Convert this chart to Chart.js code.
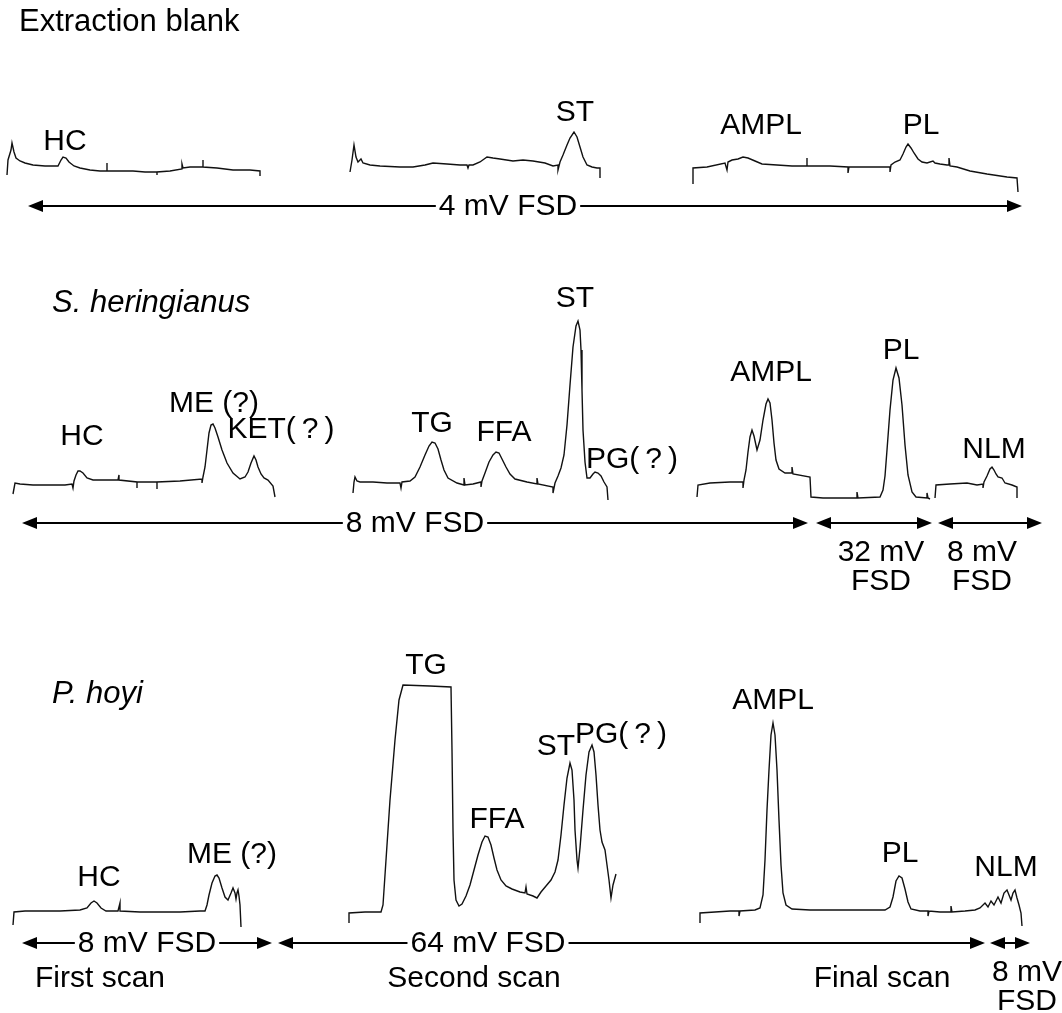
<!DOCTYPE html>
<html>
<head>
<meta charset="utf-8">
<title>TLC-FID scans</title>
<script src="https://cdn.jsdelivr.net/npm/chart.js@4.4.1/dist/chart.umd.min.js"></script>
<style>
  html, body { margin: 0; padding: 0; background: #fff; }
  #wrap { width: 1062px; height: 1013px; }
</style>
</head>
<body>
<div id="wrap"><canvas id="scans" width="1062" height="1013"></canvas></div>
<script>
// Trace values: [position along plate, recorder deflection]
// (deflection grows downward on this sheet, so the y scale is reversed)

// Extraction blank
const blankScan1 = [[7,175],[8,160],[11,150],[12,143],[14,152],[16,158],[20,161],[25,163],[33,165],[45,166],[58,166],[61,160],[63,157],[66,158],[69,162],[74,166],[80,168],[90,170],[100,171],[107,171],[107,163],[107,171],[120,171],[133,171],[145,172],[157,172],[157,175],[157,172],[170,171],[182,169],[182,164],[183,168],[190,167],[203,167],[203,160],[203,167],[217,168],[233,170],[250,170],[260,171],[260,176]];
const blankScan2 = [[350,172],[352,160],[354,145],[356,157],[358,162],[361,159],[363,163],[370,165],[380,166],[400,167],[413,167],[425,165],[433,163],[447,164],[460,165],[467,165],[468,168],[469,165],[473,165],[480,162],[487,157],[493,158],[500,159],[513,161],[523,160],[533,161],[545,163],[553,166],[558,165],[558,170],[560,162],[563,155],[567,145],[570,138],[574,132],[577,137],[580,147],[583,157],[587,165],[592,167],[597,168],[600,168],[600,178]];
const blankScan3 = [[693,184],[693,168],[707,167],[725,163],[727,170],[728,162],[732,160],[738,159],[743,157],[748,158],[755,161],[762,164],[777,165],[792,166],[807,166],[807,158],[807,166],[830,166],[848,167],[848,173],[849,167],[870,167],[890,167],[890,172],[891,165],[895,162],[900,160],[903,154],[906,147],[908,144],[911,148],[914,153],[918,159],[922,162],[927,163],[933,161],[935,163],[940,164],[947,165],[949,165],[949,158],[950,166],[957,167],[970,171],[987,174],[1007,177],[1017,178],[1018,192]];

// S. heringianus
const heringScan1 = [[13,494],[15,483],[20,484],[33,485],[50,485],[65,485],[72,484],[73,488],[74,481],[76,475],[78,471],[80,471],[83,473],[87,478],[93,480],[100,480],[118,480],[119,475],[119,480],[137,482],[137,488],[137,482],[157,482],[157,489],[157,482],[180,481],[202,479],[202,483],[203,477],[205,467],[207,450],[209,433],[211,425],[213,424],[215,428],[218,437],[222,450],[227,463],[233,473],[240,479],[245,477],[248,472],[251,463],[254,456],[256,460],[258,467],[261,474],[264,478],[268,480],[273,486],[275,497]];
const heringScan2 = [[353,493],[354,482],[355,477],[357,481],[360,482],[373,482],[387,483],[400,483],[401,488],[402,482],[410,481],[415,477],[420,467],[425,455],[429,446],[432,442],[435,443],[438,449],[441,460],[444,470],[448,478],[457,483],[464,485],[464,478],[465,485],[473,484],[481,482],[481,487],[482,481],[485,473],[489,462],[493,455],[496,452],[499,453],[502,459],[506,467],[510,474],[515,479],[527,482],[537,484],[537,478],[538,484],[553,487],[553,493],[555,483],[558,476],[561,468],[564,455],[567,425],[570,385],[573,347],[576,326],[578,321],[580,330],[581,350],[582,390],[583,430],[585,462],[587,478],[590,478],[593,474],[595,472],[598,473],[601,476],[604,482],[607,487],[608,500]];
const heringScan3 = [[697,497],[698,485],[710,483],[730,482],[743,482],[743,488],[744,480],[746,470],[748,452],[750,437],[752,430],[754,436],[757,450],[760,440],[763,420],[766,404],[768,399],[770,403],[772,420],[774,443],[776,460],[779,469],[785,473],[792,473],[792,467],[793,474],[810,477],[811,497],[823,498],[857,498],[857,492],[858,498],[880,497],[883,490],[885,476],[887,450],[890,410],[893,380],[896,368],[899,378],[902,405],[905,445],[908,475],[912,492],[916,497],[927,498],[927,493],[928,498],[930,499]];
const heringScan4 = [[935,498],[936,485],[950,484],[967,483],[977,485],[983,484],[983,488],[984,482],[987,476],[990,469],[992,467],[994,470],[996,474],[998,477],[1002,478],[1005,483],[1012,485],[1017,487],[1017,498]];

// P. hoyi
const hoyiScan1 = [[13,925],[14,912],[25,911],[40,911],[60,911],[80,910],[87,908],[91,903],[94,901],[97,903],[101,908],[106,911],[118,911],[120,903],[120,911],[140,912],[160,912],[180,912],[200,911],[205,911],[207,905],[209,895],[212,883],[215,876],[217,875],[219,878],[222,888],[225,897],[228,900],[231,893],[233,888],[235,893],[236,899],[237,893],[238,890],[239,896],[240,905],[241,927]];
const hoyiScan2 = [[349,923],[349,913],[365,912],[381,912],[383,905],[386,860],[390,800],[395,740],[399,700],[403,685],[430,686],[451,687],[452,750],[453,830],[454,880],[456,900],[459,906],[462,904],[466,896],[470,885],[474,870],[478,855],[482,842],[485,836],[488,837],[491,845],[494,858],[497,870],[501,880],[506,886],[512,889],[520,892],[525,893],[526,887],[527,894],[533,896],[537,898],[541,892],[546,886],[551,880],[555,872],[558,860],[561,835],[564,805],[567,778],[570,763],[572,770],[574,800],[575,830],[577,860],[578,868],[580,848],[583,810],[586,775],[589,752],[592,745],[594,752],[596,775],[598,805],[600,830],[602,842],[605,850],[607,865],[609,880],[611,898],[613,885],[616,874]];
const hoyiScan3 = [[700,923],[700,913],[715,912],[730,911],[739,911],[739,916],[740,911],[755,910],[760,908],[763,895],[765,860],[767,810],[769,770],[771,735],[773,723],[775,735],[777,770],[779,820],[781,865],[783,893],[786,905],[792,909],[810,910],[830,910],[850,910],[870,910],[885,910],[890,907],[893,897],[896,881],[899,876],[902,878],[905,889],[908,902],[911,909],[920,911],[928,911],[928,916],[929,911],[940,912],[951,912],[951,906],[952,912],[965,911],[975,910],[980,908],[985,903],[988,907],[991,901],[994,905],[998,897],[1001,903],[1004,893],[1007,890],[1009,895],[1011,900],[1013,893],[1015,890],[1017,898],[1019,905],[1021,913],[1022,926]];

const traces = [blankScan1, blankScan2, blankScan3,
                heringScan1, heringScan2, heringScan3, heringScan4,
                hoyiScan1, hoyiScan2, hoyiScan3];

// Peak names and where they sit
const peakNames = ['HC', 'ST', 'AMPL', 'PL',
                   'HC', 'ME (?)', 'KET(\u2009?\u2009)', 'TG', 'FFA', 'ST', 'PG(\u2009?\u2009)', 'AMPL', 'PL', 'NLM',
                   'HC', 'ME (?)', 'TG', 'FFA', 'ST', 'PG(\u2009?\u2009)', 'AMPL', 'PL', 'NLM'];
const peakX = [65, 575, 761, 921,
               82, 214, 281, 432, 504, 575, 632, 771, 901, 994,
               99, 232, 426, 497, 556, 621, 773, 900, 1006];
const peakY = [142, 113, 126, 126,
               437, 404, 430, 424, 433, 299, 460, 373, 351, 450,
               878, 855, 666, 820, 747, 735, 701, 854, 868];

// Full-scale deflection bars: start, end, row, text
const fsdStart = [28, 22, 816, 938, 22, 278, 990];
const fsdEnd   = [1022, 808, 932, 1042, 272, 985, 1030];
const fsdRow   = [206, 523, 523, 523, 943, 943, 943];
const fsdText  = ['4 mV FSD', '8 mV FSD', '32 mV|FSD', '8 mV|FSD', '8 mV FSD', '64 mV FSD', '8 mV|FSD'];
const fsdTextX = [508, 415, 881, 982, 147, 488, 1027];

const panelTitles = ['Extraction blank', 'S. heringianus', 'P. hoyi'];
const scanNames = ['First scan', 'Second scan', 'Final scan'];

const FONT = '"Liberation Sans", Arial, Helvetica, sans-serif';

const annotate = {
    id: 'annotate',
    afterDatasetsDraw(chart) {
        const ctx = chart.ctx;
        const xs = chart.scales.x;
        const ys = chart.scales.y;
        const px = v => xs.getPixelForValue(v);
        const py = v => ys.getPixelForValue(v);

        ctx.save();
        ctx.fillStyle = '#000';
        ctx.strokeStyle = '#000';

        // panel titles
        ctx.textAlign = 'left';
        ctx.textBaseline = 'middle';
        ctx.font = '31px ' + FONT;
        ctx.fillText(panelTitles[0], px(19), py(22));
        ctx.font = 'italic 31px ' + FONT;
        ctx.fillText(panelTitles[1], px(52), py(303));
        ctx.fillText(panelTitles[2], px(52), py(694));

        // peak labels
        ctx.font = '30px ' + FONT;
        ctx.textAlign = 'center';
        peakNames.forEach((name, i) => {
            ctx.fillText(name, px(peakX[i]), py(peakY[i]));
        });

        // FSD bars
        const head = (x, y, dir) => {
            ctx.beginPath();
            ctx.moveTo(x, y);
            ctx.lineTo(x - dir * 15, y - 6);
            ctx.lineTo(x - dir * 15, y + 6);
            ctx.closePath();
            ctx.fill();
        };
        fsdStart.forEach((s, i) => {
            const x1 = px(s), x2 = px(fsdEnd[i]), y = py(fsdRow[i]);
            ctx.lineWidth = 2;
            ctx.beginPath();
            ctx.moveTo(x1 + 10, y);
            ctx.lineTo(x2 - 10, y);
            ctx.stroke();
            head(x1, y, -1);
            head(x2, y, 1);

            const lines = fsdText[i].split('|');
            if (lines.length === 1) {
                const w = ctx.measureText(lines[0]).width;
                const cx = px(fsdTextX[i]);
                ctx.fillStyle = '#fff';
                ctx.fillRect(cx - w / 2 - 3, y - 14, w + 6, 28);
                ctx.fillStyle = '#000';
                ctx.fillText(lines[0], cx, y + 1);
            } else {
                lines.forEach((t, k) => {
                    ctx.fillText(t, px(fsdTextX[i]), y + 30 + k * 29);
                });
            }
        });

        // scan names
        const scanX = [100, 474, 882];
        scanNames.forEach((t, i) => ctx.fillText(t, px(scanX[i]), py(979)));

        ctx.restore();
    }
};

new Chart(document.getElementById('scans'), {
    type: 'scatter',
    data: {
        datasets: traces.map(t => ({
            data: t.map(([x, y]) => ({ x, y })),
            showLine: true,
            borderColor: '#111',
            borderWidth: 1.4,
            pointRadius: 0,
            tension: 0,
            fill: false
        }))
    },
    options: {
        responsive: false,
        animation: false,
        devicePixelRatio: 1,
        layout: { padding: 0 },
        plugins: { legend: { display: false }, tooltip: { enabled: false } },
        scales: {
            x: { type: 'linear', min: 0, max: 1062, display: false },
            y: { type: 'linear', min: 0, max: 1013, reverse: true, display: false }
        }
    },
    plugins: [annotate]
});
</script>
</body>
</html>
